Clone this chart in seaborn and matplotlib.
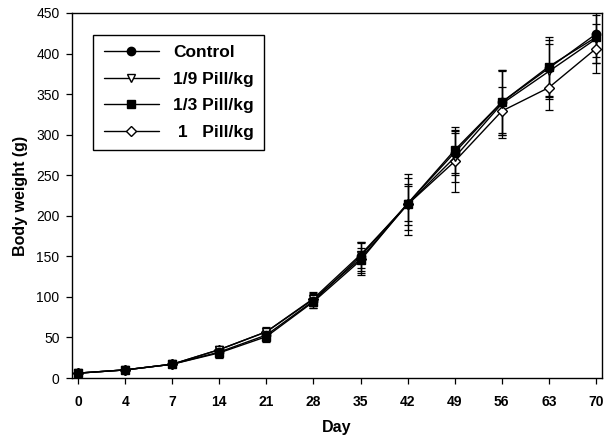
import numpy as np
import pandas as pd
import matplotlib
matplotlib.use("Agg")
import matplotlib.pyplot as plt
import seaborn as sns
from matplotlib.lines import Line2D

days = ["0", "4", "7", "14", "21", "28", "35", "42", "49", "56", "63", "70"]
groups = ["Control", "1/9 Pill/kg", "1/3 Pill/kg", " 1   Pill/kg"]

control_mean = [6, 10, 17, 32, 53, 95, 150, 215, 278, 340, 382, 424]
ninth_mean = [6, 10, 17, 35, 57, 98, 152, 214, 272, 338, 378, 418]
third_mean = [6, 10, 17, 31, 51, 94, 145, 215, 281, 340, 384, 420]
one_mean = [6, 10, 17, 35, 57, 97, 147, 214, 267, 329, 358, 406]

control_sd = [1, 1, 2, 6, 6, 9, 18, 32, 28, 40, 35, 28]
ninth_sd = [1, 1, 2, 5, 6, 8, 16, 25, 30, 42, 34, 30]
third_sd = [1, 1, 2, 6, 7, 8, 15, 22, 28, 38, 36, 32]
one_sd = [1, 1, 2, 5, 5, 8, 20, 38, 38, 30, 28, 30]

means = [control_mean, ninth_mean, third_mean, one_mean]
sds = [control_sd, ninth_sd, third_sd, one_sd]
markers = ["o", "v", "s", "D"]
faces = ["black", "white", "black", "white"]
msizes = [6, 6, 5.5, 5.5]

rows = []
for g, m, s in zip(groups, means, sds):
    for i, d in enumerate(days):
        rows.append({"group": g, "pos": i, "day": d, "weight": m[i], "sd": s[i]})
df = pd.DataFrame(rows)

sns.set_theme(style="white")
plt.rcParams["font.family"] = ["Liberation Sans", "DejaVu Sans"]
plt.rcParams["text.color"] = "black"
plt.rcParams["axes.labelcolor"] = "black"
plt.rcParams["xtick.color"] = "black"
plt.rcParams["ytick.color"] = "black"

fig = plt.figure(figsize=(6.06, 4.36), dpi=100)
ax = fig.add_axes([72 / 606, 1 - 378 / 436, 530 / 606, 365 / 436])

order = [3, 1, 2, 0]
for k in order:
    g = groups[k]
    sub = df[df["group"] == g]
    ax.errorbar(sub["pos"], sub["weight"], yerr=sub["sd"], fmt="none",
                ecolor="black", elinewidth=0.9, capsize=3, capthick=0.9, zorder=2)
    sns.lineplot(data=sub, x="pos", y="weight", ax=ax, color="black",
                 linewidth=1.0, marker=markers[k], markersize=msizes[k],
                 markerfacecolor=faces[k], markeredgecolor="black",
                 markeredgewidth=1.0, legend=False, zorder=3)

ax.set_xlim(-0.13, 11.13)
ax.set_ylim(0, 450)
ax.set_xticks(range(len(days)))
ax.set_xticklabels(days, fontweight="bold", fontsize=10)
ax.set_yticks(range(0, 451, 50))
ax.tick_params(axis="y", labelsize=10, pad=5)
ax.tick_params(axis="x", pad=8)
ax.tick_params(axis="both", direction="out", length=4, width=0.9,
               color="black", labelcolor="black", bottom=True, left=True)
ax.set_xlabel("Day", fontweight="bold", fontsize=11.5, labelpad=8)
ax.set_ylabel("Body weight (g)", fontweight="bold", fontsize=11.5, labelpad=6)
for sp in ax.spines.values():
    sp.set_visible(True)
    sp.set_color("black")
    sp.set_linewidth(1.0)

handles = [Line2D([0], [0], color="black", lw=1.0, marker=markers[k],
                  markersize=msizes[k], markerfacecolor=faces[k],
                  markeredgecolor="black") for k in range(4)]
leg = ax.legend(handles, groups, loc="upper left", bbox_to_anchor=(0.04, 0.94),
                borderaxespad=0, frameon=True, fancybox=False, edgecolor="black",
                framealpha=1, prop={"weight": "bold", "size": 12.5},
                handlelength=3.2, borderpad=0.6, labelspacing=0.65,
                handletextpad=0.8)
leg.get_frame().set_linewidth(1.0)

fig.savefig("out.png", dpi=100)
